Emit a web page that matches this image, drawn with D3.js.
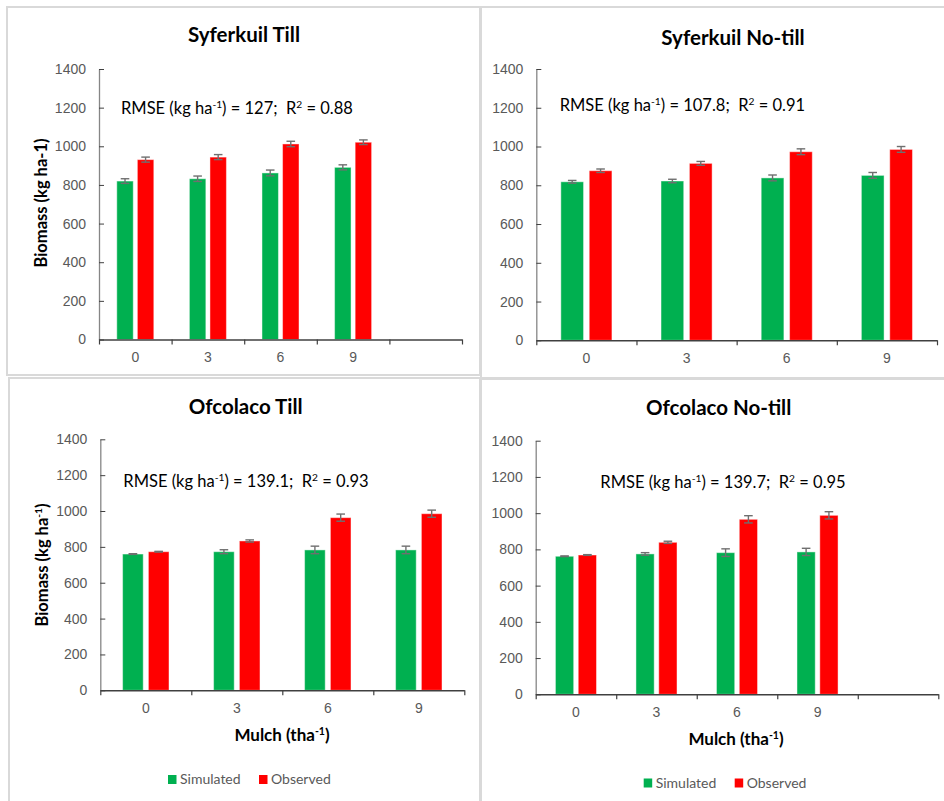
<!DOCTYPE html>
<html>
<head>
<meta charset="utf-8">
<script src="https://cdnjs.cloudflare.com/ajax/libs/d3/7.8.5/d3.min.js"></script>
<style>
  body { margin: 0; background: #fff; }
  svg { display: block; font-family: Lato, "Open Sans", sans-serif; }
</style>
</head>
<body>
<svg id="chart" width="944" height="801"></svg>
<script>
// data
const mulch = ["0", "3", "6", "9"];
const yTicks = [0, 200, 400, 600, 800, 1000, 1200, 1400];
const seriesNames = ["Simulated", "Observed"];

const syfTillSim = [820, 832, 862, 891];
const syfTillObs = [931, 944, 1012, 1021];
const syfTillSimErr = [12, 14, 15, 13];
const syfTillObsErr = [13, 13, 14, 12];

const syfNoTillSim = [818, 822, 838, 851];
const syfNoTillObs = [875, 913, 973, 985];
const syfNoTillSimErr = [7, 9, 15, 15];
const syfNoTillObsErr = [9, 10, 15, 15];

const ofcTillSim = [760, 773, 783, 783];
const ofcTillObs = [773, 833, 963, 985];
const ofcTillSimErr = [2, 11, 21, 21];
const ofcTillObsErr = [2, 6, 20, 20];

const ofcNoTillSim = [762, 775, 782, 786];
const ofcNoTillObs = [769, 839, 966, 988];
const ofcNoTillSimErr = [2, 7, 21, 20];
const ofcNoTillObsErr = [2, 6, 20, 20];

const colors = { Simulated: "#00b050", Observed: "#ff0000" };

const svg = d3.select("#chart");

// panel frames (light grey boxes)
const frames = [
  { x: 7, y: 7, w: 473, h: 368 },
  { x: 481, y: 7, w: 470, h: 371 },
  { x: 9, y: 378, w: 471, h: 430 },
  { x: 481, y: 379, w: 470, h: 430 }
];
svg.selectAll("rect.frame").data(frames).enter().append("rect")
  .attr("class", "frame")
  .attr("x", d => d.x).attr("y", d => d.y)
  .attr("width", d => d.w).attr("height", d => d.h)
  .attr("fill", "none").attr("stroke", "#d9d9d9").attr("stroke-width", 2);

const panels = [
  { title: "Syferkuil Till", sim: syfTillSim, obs: syfTillObs, simErr: syfTillSimErr, obsErr: syfTillObsErr,
    extraSlot: true, left: 99, right: 462, top: 69, bottom: 339.5,
    titleX: 244, titleY: 42,
    stat: ["127", "0.88"], statX: 121, statY: 114,
    ylabel: "plain", ylabelX: 41, ylabelY: 203 },
  { title: "Syferkuil No-till", sim: syfNoTillSim, obs: syfNoTillObs, simErr: syfNoTillSimErr, obsErr: syfNoTillObsErr,
    extraSlot: false, left: 536.3, right: 937, top: 69, bottom: 340.3,
    titleX: 733, titleY: 45,
    stat: ["107.8", "0.91"], statX: 559.7, statY: 111 },
  { title: "Ofcolaco Till", sim: ofcTillSim, obs: ofcTillObs, simErr: ofcTillSimErr, obsErr: ofcTillObsErr,
    extraSlot: false, left: 100.3, right: 464.3, top: 439.3, bottom: 690.3,
    titleX: 245.7, titleY: 414,
    stat: ["139.1", "0.93"], statX: 123.3, statY: 486.7,
    ylabel: "sup", ylabelX: 42.7, ylabelY: 565,
    xlabelX: 282, xlabelY: 740.7,
    legendX: 168, legendY: 784 },
  { title: "Ofcolaco No-till", sim: ofcNoTillSim, obs: ofcNoTillObs, simErr: ofcNoTillSimErr, obsErr: ofcNoTillObsErr,
    extraSlot: true, left: 535.7, right: 938.3, top: 440.7, bottom: 694.3,
    titleX: 718.7, titleY: 414.5,
    stat: ["139.7", "0.95"], statX: 600.3, statY: 488.3,
    xlabelX: 736, xlabelY: 745,
    legendX: 643.7, legendY: 787.5 }
];

// parts: [text, isSuperscript]
function richText(sel, parts) {
  let raised = false;
  parts.forEach(([str, isSup]) => {
    const t = sel.append("tspan").text(str);
    if (isSup && !raised) { t.attr("dy", -6).attr("font-size", "0.62em"); raised = true; }
    else if (isSup) { t.attr("font-size", "0.62em"); }
    else if (raised) { t.attr("dy", 6); raised = false; }
  });
}

panels.forEach(p => {
  const g = svg.append("g");
  const cats = p.extraSlot ? mulch.concat([" "]) : mulch;

  const x = d3.scaleBand().domain(cats).range([p.left, p.right]).padding(0);
  const y = d3.scaleLinear().domain([0, 1400]).range([p.bottom, p.top]);
  const bw = x.bandwidth();
  const xs = d3.scaleBand().domain(seriesNames)
    .range([bw * 0.245, bw * 0.755]).paddingInner(0.2).paddingOuter(0);

  const rows = mulch.map((m, i) => ({
    m,
    vals: [
      { s: "Simulated", v: p.sim[i], e: p.simErr[i] },
      { s: "Observed", v: p.obs[i], e: p.obsErr[i] }
    ]
  }));

  const groups = g.selectAll("g.cat").data(rows).enter().append("g")
    .attr("transform", d => `translate(${x(d.m)},0)`);

  groups.selectAll("rect").data(d => d.vals).enter().append("rect")
    .attr("x", d => xs(d.s))
    .attr("y", d => y(d.v))
    .attr("width", xs.bandwidth())
    .attr("height", d => y(0) - y(d.v))
    .attr("fill", d => colors[d.s])
    .attr("stroke", "rgba(255,255,255,0.45)")
    .attr("stroke-width", 1);

  // error bars
  const eb = groups.selectAll("g.err").data(d => d.vals).enter().append("g")
    .attr("stroke", "#6f6f6f").attr("stroke-width", 1.4);
  const cx = d => xs(d.s) + xs.bandwidth() / 2;
  eb.append("line")
    .attr("x1", cx).attr("x2", cx)
    .attr("y1", d => y(d.v + d.e)).attr("y2", d => y(d.v - d.e));
  eb.append("line")
    .attr("x1", d => cx(d) - 4.3).attr("x2", d => cx(d) + 4.3)
    .attr("y1", d => y(d.v + d.e)).attr("y2", d => y(d.v + d.e));
  eb.append("line")
    .attr("x1", d => cx(d) - 4.3).attr("x2", d => cx(d) + 4.3)
    .attr("y1", d => y(d.v - d.e)).attr("y2", d => y(d.v - d.e));

  // y axis
  const yAxis = g.append("g")
    .attr("transform", `translate(${p.left},0)`)
    .call(d3.axisLeft(y).tickValues(yTicks).tickFormat(d3.format("d"))
      .tickSizeInner(-5).tickSizeOuter(0).tickPadding(13));
  yAxis.select(".domain").attr("stroke", "#868686").attr("stroke-width", 1.3);
  yAxis.selectAll(".tick line").attr("stroke", "#404040");
  yAxis.selectAll("text").attr("fill", "#595959").attr("font-size", 14);

  // x axis: labels at band centres, ticks at band edges
  const xAxis = g.append("g")
    .attr("transform", `translate(0,${p.bottom})`)
    .call(d3.axisBottom(x).tickSize(0).tickPadding(13).tickFormat(d => d.trim()));
  xAxis.select(".domain").remove();
  xAxis.selectAll("text").attr("fill", "#595959").attr("font-size", 14);
  const edges = d3.scaleLinear().domain([0, cats.length]).range([p.left, p.right]);
  const xEdge = g.append("g")
    .attr("transform", `translate(0,${p.bottom})`)
    .call(d3.axisBottom(edges).tickValues(d3.range(cats.length + 1)).tickFormat("").tickSizeInner(5).tickSizeOuter(0));
  xEdge.select(".domain").attr("stroke", "#404040").attr("stroke-width", 1.4);
  xEdge.selectAll(".tick line").attr("stroke", "#404040").attr("stroke-width", 1.2);

  // title
  g.append("text").attr("x", p.titleX).attr("y", p.titleY)
    .attr("text-anchor", "middle").attr("font-weight", "bold").attr("font-size", 20.5)
    .attr("fill", "#000").text(p.title);

  // statistics
  const st = g.append("text").attr("x", p.statX).attr("y", p.statY)
    .attr("font-size", 16.5).attr("fill", "#000").style("white-space", "pre");
  richText(st, [["RMSE (kg ha", false], ["-1", true], [`) = ${p.stat[0]};  R`, false], ["2", true], [` = ${p.stat[1]}`, false]]);

  // y label
  if (p.ylabel) {
    const yl = g.append("text")
      .attr("transform", `translate(${p.ylabelX},${p.ylabelY}) rotate(-90)`)
      .attr("text-anchor", "middle").attr("dy", "0.35em")
      .attr("font-weight", "bold").attr("font-size", 16.5).attr("fill", "#000");
    if (p.ylabel === "plain") {
      yl.text("Biomass (kg ha-1)");
    } else {
      richText(yl, [["Biomass (kg ha", false], ["-1", true], [")", false]]);
    }
  }

  // x label
  if (p.xlabelX) {
    const xl = g.append("text").attr("x", p.xlabelX).attr("y", p.xlabelY)
      .attr("text-anchor", "middle").attr("font-weight", "bold").attr("font-size", 17).attr("fill", "#000");
    richText(xl, [["Mulch (tha", false], ["-1", true], [")", false]]);
  }

  // legend
  if (p.legendX) {
    const lg = g.append("g").attr("transform", `translate(${p.legendX},${p.legendY})`);
    const offs = [0, 91];
    seriesNames.forEach((s, i) => {
      lg.append("rect").attr("x", offs[i]).attr("y", -9).attr("width", 8.5).attr("height", 9).attr("fill", colors[s]);
      lg.append("text").attr("x", offs[i] + 12).attr("y", 0)
        .attr("font-size", 14).attr("fill", "#595959").text(s);
    });
  }
});
</script>
</body>
</html>
